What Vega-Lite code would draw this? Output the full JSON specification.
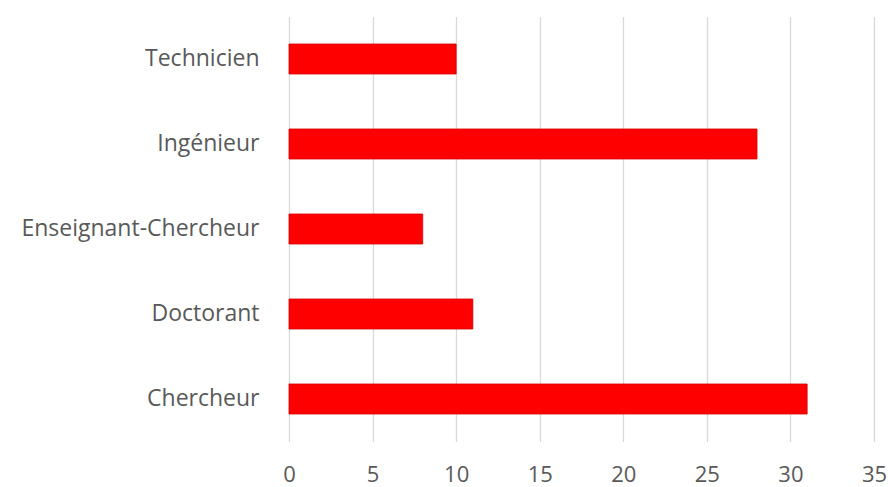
{
  "$schema": "https://vega.github.io/schema/vega-lite/v6.json",
  "width": 585,
  "height": 425,
  "autosize": "none",
  "padding": {"left": 289, "top": 16.5, "right": 14, "bottom": 45.5},
  "background": "white",
  "config": {"view": {"stroke": null}},
  "data": {
    "values": [
      {"categorie": "Technicien", "valeur": 10},
      {"categorie": "Ingénieur", "valeur": 28},
      {"categorie": "Enseignant-Chercheur", "valeur": 8},
      {"categorie": "Doctorant", "valeur": 11},
      {"categorie": "Chercheur", "valeur": 31}
    ]
  },
  "mark": {"type": "bar", "color": "#ff0000", "stroke": "#d40000", "strokeWidth": 0.8},
  "encoding": {
    "y": {
      "field": "categorie",
      "type": "nominal",
      "sort": null,
      "scale": {"paddingInner": 0.647, "paddingOuter": 0.3235},
      "axis": {
        "title": null,
        "domain": false,
        "ticks": false,
        "grid": false,
        "labelFont": "Open Sans",
        "labelFontSize": 23,
        "labelColor": "#595959",
        "labelPadding": 30,
        "labelLimit": 0
      }
    },
    "x": {
      "field": "valeur",
      "type": "quantitative",
      "scale": {"domain": [0, 35], "nice": false},
      "axis": {
        "title": null,
        "values": [0, 5, 10, 15, 20, 25, 30, 35],
        "domain": false,
        "ticks": false,
        "grid": true,
        "gridColor": "#d9d9d9",
        "gridWidth": 1.3,
        "labelFlush": false,
        "labelFont": "Open Sans",
        "labelFontSize": 22,
        "labelColor": "#595959",
        "labelPadding": 23
      }
    }
  }
}
